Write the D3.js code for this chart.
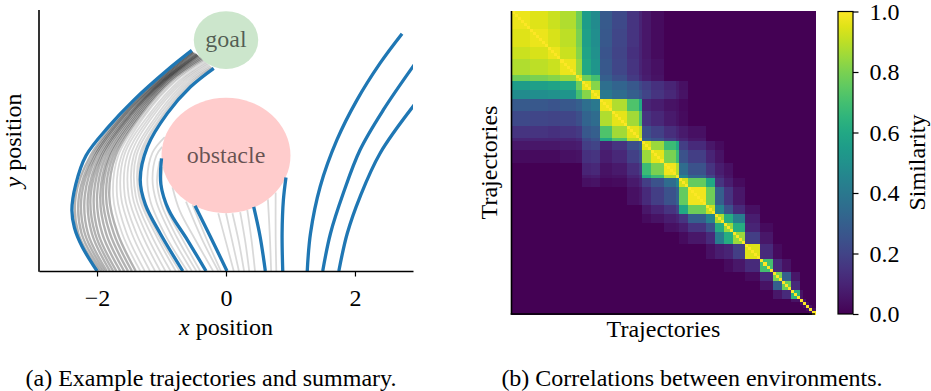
<!DOCTYPE html>
<html><head><meta charset="utf-8">
<script src="https://cdn.jsdelivr.net/npm/d3@7"></script>
<style>
body{margin:0;background:#fff;}
text{font-family:"Liberation Serif","Times New Roman",serif;font-size:24px;fill:#000;}
</style></head><body>
<svg id="chart" width="931" height="391"></svg>
<script>
// ---------- DATA ----------
const xTickValues = [-2, 0, 2];
const colorbarTicks = [0, 0.2, 0.4, 0.6, 0.8, 1.0];
const goalRegion = {x: 0, y: 4, r: 0.5, label: "goal"};
const obstacleRegion = {x: 0, y: 2, r: 1, label: "obstacle"};

// summary trajectories (blue) [x, y]
const summaryTrajectories = [
  [[-2.0,0],[-2.23,0.42],[-2.35,0.75],[-2.39,1.05],[-2.33,1.5],[-2.17,2.0],[-1.82,2.5],[-1.43,2.96],[-0.91,3.48],[-0.53,3.82]],
  [[-0.67,0],[-1.02,0.65],[-1.25,1.15],[-1.33,1.58],[-1.22,2.15],[-0.91,2.73],[-0.55,3.19],[-0.19,3.51]],
  [[-0.31,0],[-0.6,0.54],[-0.89,1.06],[-1.01,1.5],[-1.0,1.95]],
  [[0.015,0],[-0.24,0.59],[-0.48,1.13]],
  [[0.61,0],[0.53,0.59],[0.43,1.11]],
  [[0.88,0],[0.87,0.65],[0.89,1.23],[0.93,1.62]],
  [[1.26,0],[1.31,0.65],[1.46,1.46],[1.72,2.27],[2.03,2.96],[2.39,3.6],[2.73,4.11]],
  [[1.5,0],[1.62,0.65],[1.82,1.35],[2.08,2.1],[2.44,2.79],[2.95,3.62]],
  [[1.75,0],[1.88,0.65],[2.08,1.29],[2.39,2.04],[2.95,2.92]]
];

// dense example trajectories near the outer path (dark gray)
const exampleTrajectoriesDark = [
  [[-1.97,0],[-2.29,0.65],[-2.33,1.3],[-2.1,2.0],[-1.62,2.7],[-1.08,3.3],[-0.52,3.8]],
  [[-1.93,0],[-2.24,0.65],[-2.28,1.3],[-2.06,2.0],[-1.59,2.7],[-1.05,3.3],[-0.51,3.79]],
  [[-1.89,0],[-2.19,0.65],[-2.24,1.3],[-2.03,2.0],[-1.57,2.7],[-1.03,3.3],[-0.5,3.78]],
  [[-1.85,0],[-2.14,0.65],[-2.19,1.3],[-2.0,2.0],[-1.54,2.7],[-1.01,3.3],[-0.48,3.77]],
  [[-1.8,0],[-2.08,0.65],[-2.14,1.3],[-1.96,2.0],[-1.51,2.7],[-0.99,3.3],[-0.46,3.76]],
  [[-1.75,0],[-2.03,0.65],[-2.1,1.3],[-1.93,2.0],[-1.49,2.7],[-0.97,3.3],[-0.45,3.75]],
  [[-1.7,0],[-1.98,0.65],[-2.05,1.3],[-1.9,2.0],[-1.47,2.7],[-0.96,3.3],[-0.44,3.74]],
  [[-1.64,0],[-1.92,0.65],[-2.0,1.3],[-1.86,2.0],[-1.44,2.7],[-0.94,3.3],[-0.43,3.73]],
  [[-1.58,0],[-1.86,0.65],[-1.95,1.3],[-1.82,2.0],[-1.41,2.7],[-0.92,3.3],[-0.42,3.72]],
  [[-1.52,0],[-1.8,0.65],[-1.91,1.3],[-1.79,2.0],[-1.38,2.7],[-0.9,3.3],[-0.4,3.7]],
  [[-1.46,0],[-1.74,0.65],[-1.86,1.3],[-1.75,2.0],[-1.35,2.7],[-0.87,3.3],[-0.38,3.69]],
  [[-1.4,0],[-1.68,0.65],[-1.81,1.3],[-1.71,2.0],[-1.32,2.7],[-0.84,3.3],[-0.36,3.67]]
];

// sparser example trajectories (light gray)
const exampleTrajectoriesLight = [
  [[-1.33,0],[-1.61,0.65],[-1.75,1.3],[-1.67,2.0],[-1.28,2.7],[-0.8,3.3],[-0.34,3.66]],
  [[-1.26,0],[-1.54,0.65],[-1.69,1.3],[-1.62,2.0],[-1.25,2.7],[-0.77,3.3],[-0.33,3.64]],
  [[-1.18,0],[-1.46,0.65],[-1.63,1.3],[-1.58,2.0],[-1.2,2.7],[-0.72,3.3],[-0.31,3.62]],
  [[-1.1,0],[-1.39,0.65],[-1.57,1.3],[-1.53,2.0],[-1.16,2.7],[-0.68,3.3],[-0.29,3.6]],
  [[-1.02,0],[-1.31,0.65],[-1.51,1.3],[-1.48,2.0],[-1.12,2.7],[-0.64,3.3],[-0.27,3.58]],
  [[-0.94,0],[-1.24,0.65],[-1.45,1.3],[-1.43,2.0],[-1.07,2.7],[-0.6,3.3],[-0.25,3.56]],
  [[-0.86,0],[-1.17,0.65],[-1.4,1.3],[-1.39,2.0],[-1.03,2.7],[-0.56,3.3],[-0.23,3.54]],
  [[-0.78,0],[-1.1,0.65],[-1.35,1.3],[-1.34,2.0],[-0.99,2.7],[-0.52,3.3],[-0.21,3.53]],
  [[-0.72,0],[-1.06,0.65],[-1.32,1.3],[-1.31,2.0],[-0.96,2.7],[-0.49,3.3],[-0.2,3.52]],
  [[-0.6,0],[-0.93,0.6],[-1.17,1.2],[-1.22,1.6],[-1.14,2.05],[-0.95,2.32]],
  [[-0.53,0],[-0.84,0.6],[-1.08,1.2],[-1.14,1.6],[-1.08,2.0],[-0.99,2.15]],
  [[-0.46,0],[-0.76,0.58],[-1.0,1.15],[-1.07,1.55],[-1.03,1.9]],
  [[-0.4,0],[-0.68,0.56],[-0.93,1.1],[-1.0,1.5],[-0.98,1.8]],
  [[-0.2,0],[-0.48,0.55],[-0.72,1.05],[-0.83,1.45]],
  [[-0.12,0],[-0.38,0.57],[-0.62,1.2]],
  [[-0.08,0],[-0.3,0.55],[-0.52,1.15]],
  [[0.12,0],[0.0,0.5],[-0.12,1.0]],
  [[0.2,0],[0.1,0.5],[0.0,1.0]],
  [[0.28,0],[0.2,0.5],[0.1,1.0]],
  [[0.36,0],[0.3,0.5],[0.22,1.02]],
  [[0.45,0],[0.4,0.5],[0.33,1.06]],
  [[0.7,0],[0.68,0.6],[0.65,1.24]],
  [[0.78,0],[0.77,0.6],[0.77,1.36]]
];

// similarity matrix: trajectories grouped along the diagonal
const groupSizes = [6,6,4,5,2,3,3,4,5,4,1,3,4,4,1,3,6,3,3,3,4,5,4,3,3,3,1,1,1,1,1];
// row k lists similarity of group k with groups k, k+1, ... (missing = 0)
const groupSimilarity = [
  [.97,.95,.92,.88,.78,.55,.48,.28,.22,.15,.10,.06,.03],
  [.97,.94,.90,.80,.56,.49,.27,.21,.15,.10,.06,.03],
  [.97,.92,.82,.58,.50,.26,.20,.14,.10,.06,.03],
  [.97,.85,.60,.52,.27,.21,.15,.10,.07,.04],
  [.95,.78,.70,.30,.24,.17,.12,.08,.05],
  [.96,.82,.36,.32,.27,.22,.18,.14,.10,.07,.04],
  [.96,.40,.35,.30,.26,.20,.15,.11,.08,.05],
  [.97,.88,.72,.60,.10,.08,.05,.04,.02],
  [.96,.86,.72,.15,.11,.07,.05,.03],
  [.96,.90,.24,.19,.13,.10,.07,.04],
  [1.0,.30,.25,.18,.13,.10,.06],
  [.95,.85,.68,.60,.18,.12,.06,.03],
  [.96,.80,.68,.25,.18,.10,.05],
  [.98,.88,.35,.25,.15,.08,.04],
  [1.0,.45,.32,.20,.10,.05],
  [.93,.76,.60,.15,.08,.03],
  [.98,.78,.30,.15,.06],
  [.92,.45,.25,.12,.04],
  [.88,.62,.42,.08],
  [.85,.62,.10,.03],
  [.85,.18,.06],
  [.95,.12,.03],
  [.70,.12,.05],
  [.80,.30,.06],
  [.78,.12],
  [.65,.05],
  [1.0,.05],
  [1.0,.05],
  [1.0,.05],
  [1.0,.05],
  [1.0]
];
const selfSimilarity = 1.0;

// ---------- DRAW ----------
const svg = d3.select("#chart");
const FONT = "Liberation Serif";

// left panel
const x = d3.scaleLinear().domain([-2.9, 2.9]).range([39, 413]);
const y = d3.scaleLinear().domain([0, 4.52]).range([271, 10]);

const defs = svg.append("defs");
defs.append("clipPath").attr("id","clipL")
  .append("rect").attr("x",39).attr("y",0).attr("width",374).attr("height",271);

const gL = svg.append("g").attr("clip-path","url(#clipL)");
const line = d3.line().x(d=>x(d[0])).y(d=>y(d[1])).curve(d3.curveCatmullRom.alpha(0.5));

gL.selectAll("path.light").data(exampleTrajectoriesLight).join("path")
  .attr("class","light").attr("d",line).attr("fill","none")
  .attr("stroke","#000").attr("stroke-opacity",0.15).attr("stroke-width",1.8);
gL.selectAll("path.dark").data(exampleTrajectoriesDark).join("path")
  .attr("class","dark").attr("d",line).attr("fill","none")
  .attr("stroke","#000").attr("stroke-opacity",0.3).attr("stroke-width",2.4);

const regions = [goalRegion, obstacleRegion];
const regionColor = ["#cce6cc", "#ffcccc"];
gL.selectAll("ellipse").data(regions).join("ellipse")
  .attr("cx",d=>x(d.x)).attr("cy",d=>y(d.y))
  .attr("rx",d=>x(d.r)-x(0)).attr("ry",d=>y(0)-y(d.r))
  .attr("fill",(d,i)=>regionColor[i]);

gL.selectAll("path.blue").data(summaryTrajectories).join("path")
  .attr("class","blue").attr("d",line).attr("fill","none")
  .attr("stroke","#1f77b4").attr("stroke-width",3.3);

svg.selectAll("text.region").data(regions).join("text").attr("class","region")
  .attr("x",d=>x(d.x)).attr("y",d=>y(d.y)).attr("dy","0.3em")
  .attr("text-anchor","middle").style("fill","#000").style("fill-opacity",0.6)
  .text(d=>d.label);

// left axes
const xAxis = svg.append("g").attr("transform","translate(0,271)")
  .call(d3.axisBottom(x).tickValues(xTickValues).tickFormat(d3.format("d")).tickSize(5.5).tickSizeOuter(0));
xAxis.select(".domain").attr("stroke-width",1.6);
xAxis.selectAll(".tick line").attr("stroke-width",1.2);
xAxis.selectAll(".tick text").attr("y",35).attr("dy",0).style("font-size","24px").style("font-family",FONT);
svg.append("line").attr("x1",39).attr("x2",39).attr("y1",10).attr("y2",271.8)
  .attr("stroke","#000").attr("stroke-width",1.6);

const xl = svg.append("text").attr("x",226).attr("y",335).attr("text-anchor","middle");
xl.append("tspan").style("font-style","italic").text("x");
xl.append("tspan").text(" position");
const yl = svg.append("text").attr("transform","translate(21,140.5) rotate(-90)").attr("text-anchor","middle");
yl.append("tspan").style("font-style","italic").text("y");
yl.append("tspan").text(" position");

// heatmap
const N = d3.sum(groupSizes);
const groupOf = [];
groupSizes.forEach((s,g)=>{ for(let i=0;i<s;i++) groupOf.push(g); });
function groupSim(a,b){ const i=Math.min(a,b), j=Math.max(a,b); const v=groupSimilarity[i][j-i]; return v===undefined?0:v; }
const cells = [];
for(let r=0;r<N;r++) for(let c=0;c<N;c++)
  cells.push({r, c, v: r===c ? selfSimilarity : groupSim(groupOf[r], groupOf[c])});

const hx = d3.scaleBand().domain(d3.range(N)).range([512, 815]);
const hy = d3.scaleBand().domain(d3.range(N)).range([11, 314]);
const color = d3.scaleSequential(d3.interpolateViridis).domain([0,1]);
svg.append("g").attr("shape-rendering","crispEdges").selectAll("rect").data(cells).join("rect")
  .attr("x",d=>hx(d.c)).attr("y",d=>hy(d.r))
  .attr("width",hx.bandwidth()+0.6).attr("height",hy.bandwidth()+0.6)
  .attr("fill",d=>color(d.v));
svg.append("line").attr("x1",511.5).attr("x2",511.5).attr("y1",11).attr("y2",314.8).attr("stroke","#000").attr("stroke-width",1.6);
svg.append("line").attr("x1",510.7).attr("x2",815).attr("y1",314).attr("y2",314).attr("stroke","#000").attr("stroke-width",1.6);
svg.append("text").attr("x",663.5).attr("y",337).attr("text-anchor","middle").text("Trajectories");
svg.append("text").attr("transform","translate(497,162.5) rotate(-90)").attr("text-anchor","middle").text("Trajectories");

// colorbar
const cbY = d3.scaleLinear().domain([0,1]).range([314, 11.5]);
const grad = defs.append("linearGradient").attr("id","vir")
  .attr("x1",0).attr("y1",1).attr("x2",0).attr("y2",0);
grad.selectAll("stop").data(d3.range(0,1.0001,0.05)).join("stop")
  .attr("offset",d=>d).attr("stop-color",d=>color(d));
svg.append("rect").attr("x",838).attr("y",11.5).attr("width",15).attr("height",302.5)
  .attr("fill","url(#vir)").attr("stroke","#000").attr("stroke-width",1.2);
const cbAxis = svg.append("g").attr("transform","translate(853,0)")
  .call(d3.axisRight(cbY).tickValues(colorbarTicks).tickFormat(d3.format(".1f")).tickSize(5.5).tickPadding(11));
cbAxis.select(".domain").remove();
cbAxis.selectAll(".tick line").attr("stroke-width",1.2);
cbAxis.selectAll(".tick text").style("font-size","24px").style("font-family",FONT);
svg.append("text").attr("transform","translate(925,162.5) rotate(-90)").attr("text-anchor","middle").text("Similarity");

// captions
svg.append("text").attr("x",211).attr("y",386).attr("text-anchor","middle").text("(a) Example trajectories and summary.");
svg.append("text").attr("x",692).attr("y",386).attr("text-anchor","middle").text("(b) Correlations between environments.");
</script></body></html>
